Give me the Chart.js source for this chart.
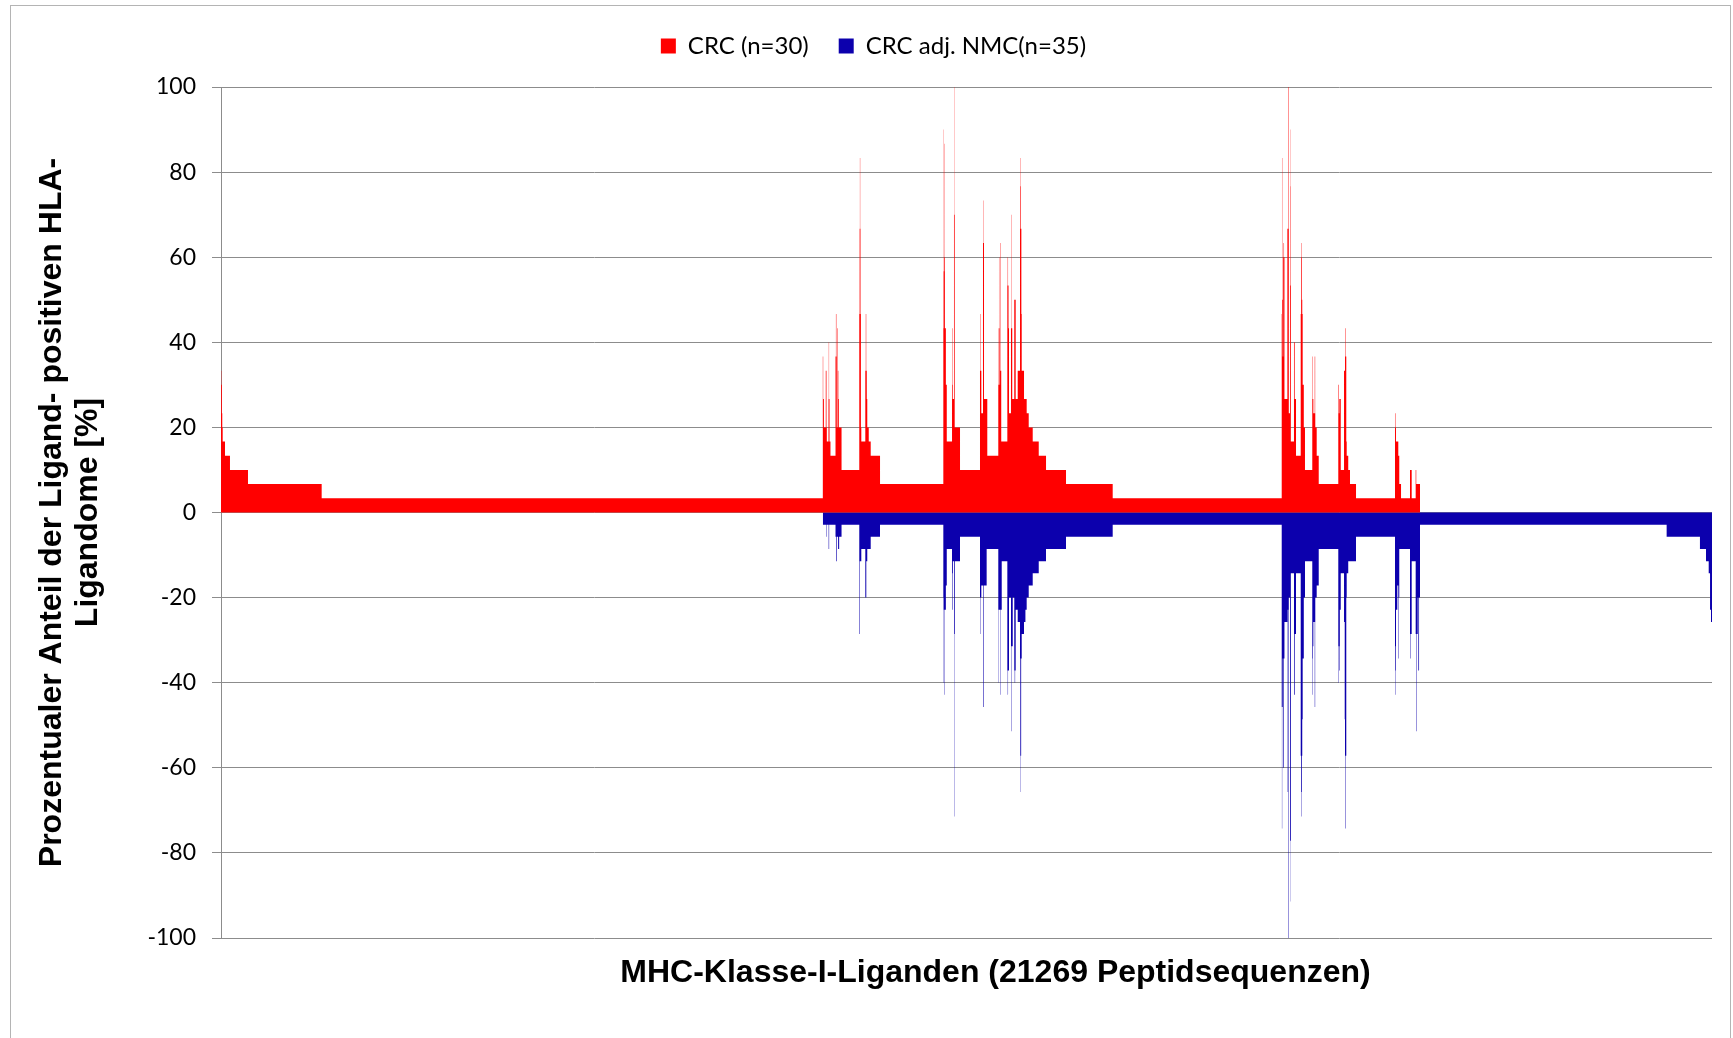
<!DOCTYPE html>
<html>
<head>
<meta charset="utf-8">
<title>MHC-Klasse-I-Liganden</title>
<script src="https://cdn.jsdelivr.net/npm/chart.js@4.4.1/dist/chart.umd.min.js"></script>
<style>
  html, body { margin: 0; padding: 0; background: #ffffff; }
  #wrap { width: 1733px; height: 1038px; }
</style>
</head>
<body>
<div id="wrap"><canvas id="chart" width="1733" height="1038"></canvas></div>
<script>
// Series labels and axis texts
const seriesNames = ['CRC (n=30)', 'CRC adj. NMC(n=35)'];
const xTitle = 'MHC-Klasse-I-Liganden (21269 Peptidsequenzen)';
const yTitle = ['Prozentualer Anteil der Ligand- positiven HLA-', 'Ligandome [%]'];
const peptideCount = 21269;
const yTickValues = [100, 80, 60, 40, 20, 0, -20, -40, -60, -80, -100];

// CRC: first peptide index of each run and the share (%) of positive ligandomes in that run
const crcStart = [
  0, 4, 12, 18, 24, 57, 128, 385, 1436,
  8585, 8590, 8600, 8627, 8637, 8642, 8666, 8670, 8674, 8680, 8694, 8766, 8772, 8778, 8784,
  8794, 8800, 8806, 8813, 8852,
  9105, 9110, 9114, 9118, 9122, 9128, 9134, 9191, 9198, 9204, 9212, 9219, 9240, 9268, 9401,
  10304, 10307, 10310, 10316, 10320, 10326, 10340, 10353, 10428, 10433, 10438, 10456, 10460,
  10463, 10466, 10542,
  10827, 10835, 10840, 10846, 10870, 10876, 10880, 10884, 10931,
  11088, 11094, 11098, 11102, 11107, 11113, 11120, 11125, 11130,
  11217, 11222, 11227, 11234, 11241, 11269, 11276, 11280, 11287, 11316, 11336, 11365,
  11398, 11403, 11407, 11412, 11417, 11422, 11455, 11493, 11522, 11579, 11665, 11769, 12054, 12720,
  15131, 15135, 15139, 15146, 15152, 15158, 15164, 15170, 15212, 15226, 15232, 15249, 15252,
  15255, 15258, 15261, 15306, 15316, 15335,
  15402, 15408, 15413, 15418, 15424, 15430, 15446, 15463, 15567, 15572, 15582, 15602, 15608,
  15610, 15630, 15659,
  15938, 15945, 15953, 15973, 16020, 16034, 16040, 16046, 16052, 16058, 16080, 16105, 16191,
  16747, 16753, 16761, 16794, 16808, 16833, 16961, 16985, 17042, 17050, 17104
];
const crcValue = [
  33.33, 30, 23.33, 20, 16.67, 13.33, 10, 6.67, 3.33,
  36.67, 26.67, 20, 33.33, 20, 16.67, 26.67, 40, 26.67, 16.67, 13.33, 36.67, 46.67, 36.67, 20,
  43.33, 33.33, 26.67, 20, 10,
  46.67, 66.67, 83.33, 66.67, 46.67, 20, 16.67, 33.33, 46.67, 33.33, 26.67, 20, 16.67, 13.33, 6.67,
  43.33, 90, 56.67, 86.67, 60, 43.33, 30, 16.67, 30, 43.33, 26.67, 70, 100,
  70, 20, 10,
  33.33, 46.67, 33.33, 23.33, 63.33, 73.33, 63.33, 26.67, 13.33,
  30, 43.33, 60, 43.33, 30, 33.33, 63.33, 33.33, 16.67,
  53.33, 60, 53.33, 43.33, 23.33, 43.33, 70, 43.33, 26.67, 50, 26.67, 33.33,
  66.67, 83.33, 76.67, 66.67, 46.67, 33.33, 26.67, 23.33, 20, 16.67, 13.33, 10, 6.67, 3.33,
  46.67, 83.33, 50, 36.67, 60, 63.33, 60, 26.67, 66.67, 100, 23.33, 53.33, 90,
  76.67, 53.33, 16.67, 40, 26.67, 13.33,
  46.67, 60, 63.33, 50, 46.67, 30, 20, 10, 36.67, 26.67, 23.33, 36.67, 23.33,
  20, 13.33, 6.67,
  30, 23.33, 26.67, 10, 33.33, 36.67, 43.33, 36.67, 16.67, 13.33, 10, 6.67, 3.33,
  23.33, 20, 16.67, 13.33, 6.67, 3.33, 10, 3.33, 10, 6.67, 0
];

// CRC adj. NMC: first peptide index of each run and the share (%) drawn below the axis
const nmcStart = [
  8585, 8630, 8636, 8668, 8675, 8766, 8775, 8784, 8803, 8818, 8852,
  9105, 9112, 9134, 9191, 9205, 9219, 9268, 9401,
  10304, 10307, 10311, 10318, 10323, 10340, 10353, 10428, 10433, 10440, 10456, 10460, 10464,
  10467, 10542,
  10827, 10833, 10838, 10846, 10870, 10878, 10922,
  11088, 11092, 11096, 11113, 11118, 11137,
  11217, 11222, 11227, 11241, 11269, 11276, 11281, 11294, 11316, 11322, 11328, 11336, 11365,
  11398, 11402, 11406, 11410, 11414, 11422, 11455, 11475, 11493, 11522, 11579, 11665, 11769,
  12054, 12720,
  15131, 15134, 15138, 15146, 15153, 15162, 15170, 15212, 15216, 15222, 15226, 15232, 15249,
  15252, 15255, 15261, 15306, 15316, 15335,
  15402, 15407, 15412, 15418, 15424, 15430, 15446, 15463, 15567, 15571, 15576, 15582, 15602,
  15608, 15610, 15630, 15659,
  15938, 15943, 15948, 15953, 15960, 15973, 16020, 16026, 16030, 16034, 16040, 16046, 16052,
  16058, 16080, 16191,
  16747, 16752, 16757, 16761, 16780, 16794, 16800, 16808, 16961, 16966, 16972, 16985,
  17042, 17048, 17054, 17071, 17080, 17090, 17104,
  20622, 21097, 21183, 21222, 21241, 21255, 21269
];
const nmcValue = [
  -2.86, -5.71, -2.86, -8.57, -2.86, -5.71, -11.43, -5.71, -8.57, -5.71, -2.86,
  -28.57, -11.43, -8.57, -20, -11.43, -8.57, -5.71, -2.86,
  -20, -40, -22.86, -42.86, -22.86, -17.14, -8.57, -14.29, -22.86, -11.43, -28.57, -71.43, -28.57,
  -11.43, -5.71,
  -20, -28.57, -20, -17.14, -45.71, -17.14, -8.57,
  -22.86, -40, -22.86, -42.86, -22.86, -11.43,
  -37.14, -42.86, -37.14, -20, -31.43, -51.43, -31.43, -20, -37.14, -40, -37.14, -22.86, -25.71,
  -34.29, -57.14, -65.71, -57.14, -34.29, -28.57, -25.71, -22.86, -20, -17.14, -14.29, -11.43, -8.57,
  -5.71, -2.86,
  -45.71, -74.29, -45.71, -34.29, -60, -34.29, -25.71, -22.86, -65.71, -22.86, -100, -20, -77.14,
  -91.43, -77.14, -14.29, -42.86, -28.57, -14.29,
  -57.14, -71.43, -65.71, -57.14, -48.57, -34.29, -20, -11.43, -34.29, -42.86, -31.43, -25.71, -45.71,
  -25.71, -20, -17.14, -8.57,
  -31.43, -40, -31.43, -37.14, -22.86, -14.29, -25.71, -48.57, -25.71, -57.14, -74.29, -57.14, -20,
  -14.29, -11.43, -5.71,
  -37.14, -42.86, -31.43, -22.86, -17.14, -34.29, -20, -8.57, -28.57, -34.29, -28.57, -11.43,
  -28.57, -51.43, -28.57, -20, -37.14, -20, -2.86,
  -5.71, -8.57, -11.43, -14.29, -22.86, -25.71, 0
];

const toPoints = (starts, values) => starts.map((x, i) => ({ x: x, y: values[i] }));

// Light frame around the whole chart
const frame = {
  id: 'frame',
  beforeDraw(chart) {
    const ctx = chart.ctx;
    ctx.save();
    ctx.fillStyle = '#ffffff';
    ctx.fillRect(0, 0, chart.width, chart.height);
    ctx.strokeStyle = '#b4b4b4';
    ctx.lineWidth = 1;
    ctx.strokeRect(10.5, 5.5, 1720, 1060);
    ctx.restore();
  }
};

// Horizontal axis title below the plot
const xAxisTitle = {
  id: 'xAxisTitle',
  afterDraw(chart) {
    const { ctx, chartArea } = chart;
    ctx.save();
    ctx.font = 'bold 32px "Liberation Sans", Arial, sans-serif';
    ctx.fillStyle = '#000000';
    ctx.textAlign = 'center';
    ctx.textBaseline = 'middle';
    ctx.fillText(xTitle, (chartArea.left + chartArea.right) / 2 + 29, chartArea.bottom + 35);
    ctx.restore();
  }
};

// Extra room between the legend and the plot
const legendGap = {
  id: 'legendGap',
  beforeInit(chart) {
    const fit = chart.legend.fit;
    chart.legend.fit = function () {
      fit.bind(chart.legend)();
      this.height += 19;
    };
  }
};

const gridGray = '#8c8c8c';

new Chart(document.getElementById('chart'), {
  type: 'line',
  data: {
    datasets: [
      {
        label: seriesNames[0],
        data: toPoints(crcStart, crcValue),
        stepped: 'before',
        fill: 'origin',
        backgroundColor: '#ff0000',
        borderColor: 'rgba(0,0,0,0)',
        borderWidth: 0,
        pointRadius: 0,
        tension: 0
      },
      {
        label: seriesNames[1],
        data: toPoints(nmcStart, nmcValue),
        stepped: 'before',
        fill: 'origin',
        backgroundColor: '#0c00ad',
        borderColor: 'rgba(0,0,0,0)',
        borderWidth: 0,
        pointRadius: 0,
        tension: 0
      }
    ]
  },
  options: {
    responsive: false,
    animation: false,
    devicePixelRatio: 1,
    events: [],
    layout: { padding: { left: 35, right: 21, top: 4, bottom: 100 } },
    plugins: {
      legend: {
        position: 'top',
        labels: {
          font: { family: 'Lato', size: 24 },
          color: '#000000',
          boxWidth: 15,
          boxHeight: 15,
          padding: 30
        }
      },
      tooltip: { enabled: false }
    },
    scales: {
      x: {
        type: 'linear',
        min: 0,
        max: peptideCount,
        display: false
      },
      y: {
        type: 'linear',
        min: -100,
        max: 100,
        afterBuildTicks(scale) {
          scale.ticks = yTickValues.map(v => ({ value: v }));
        },
        afterFit(scale) {
          scale.width = 186;
        },
        ticks: {
          font: { family: 'Lato', size: 23 },
          color: '#000000',
          padding: 16
        },
        grid: {
          color: gridGray,
          lineWidth: 1,
          tickLength: 9,
          tickColor: gridGray,
          drawTicks: true
        },
        border: { display: true, color: gridGray, width: 1 },
        title: {
          display: true,
          text: yTitle,
          color: '#000000',
          font: { family: '"Liberation Sans", Arial, sans-serif', size: 32, weight: 'bold', lineHeight: 1.1 },
          padding: { top: 0, bottom: 0 }
        }
      }
    }
  },
  plugins: [frame, xAxisTitle, legendGap]
});
</script>
</body>
</html>
